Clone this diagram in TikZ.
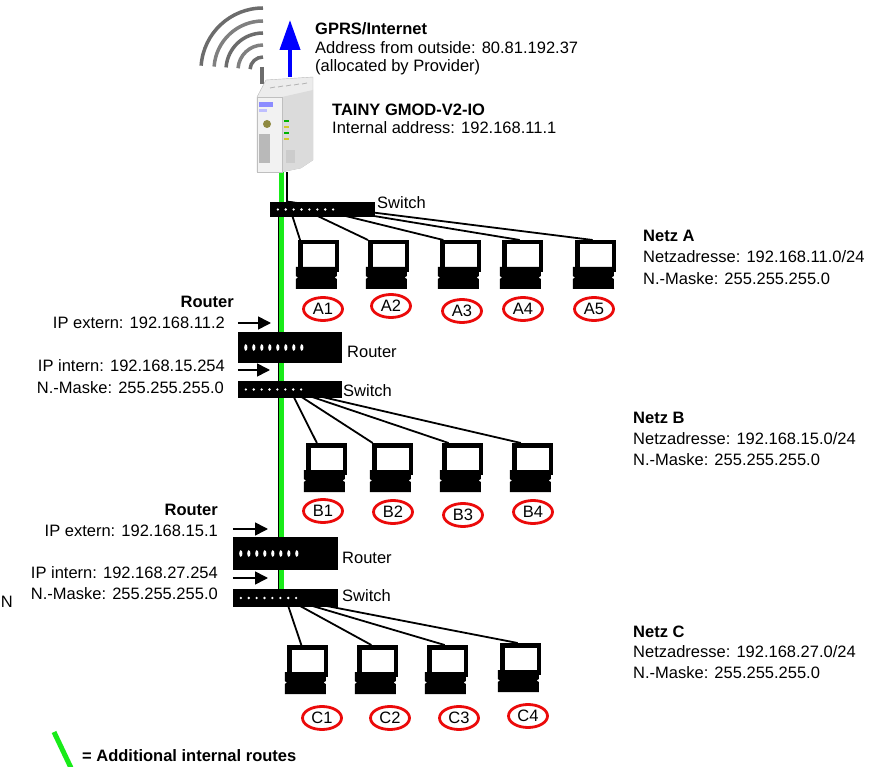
\documentclass[tikz,border=0pt]{standalone}
\usepackage{fontspec}
\setmainfont{Liberation Sans}
\usetikzlibrary{shapes.geometric,arrows.meta,backgrounds}
\definecolor{route}{RGB}{25,235,25}
\definecolor{hostred}{RGB}{235,10,10}
\newcommand{\lblfont}{\fontsize{16.5}{19}\selectfont}
\tikzset{>={Triangle[length=13pt,width=13pt]},
  lbl/.style={inner sep=0pt,anchor=base west,font=\lblfont},
  lblr/.style={inner sep=0pt,anchor=base east,font=\lblfont},
  hd/.style={lbl,font=\lblfont\bfseries},
  hdr/.style={lblr,font=\lblfont\bfseries},
  netbox/.style={fill=black,inner sep=0pt,minimum width=105pt},
  monitor/.style={draw=black,fill=white,line width=4.5pt,inner sep=0pt,
    minimum width=36.5pt,minimum height=27.5pt},
  host/.style={ellipse,draw=hostred,line width=2.8pt,inner sep=0pt,
    minimum width=39pt,minimum height=23pt,font=\lblfont},
  cable/.style={line width=1.8pt},
  ipin/.style={->,line width=1.6pt}}

% screen plus keyboard foot; #1 name, #2,#3 centre of the screen
\newcommand{\pc}[3]{%
  \node[monitor] (#1) at (#2,#3) {};
  \fill[shift={(#1.south west)}] (-2.25,-5) -- (38.75,-5) -- (38.75,4)
    -- (36.5,5.5) -- (38.75,7) -- (38.75,17) -- (-2.25,17) -- (-2.25,7)
    -- (0,5.5) -- (-2.25,4) -- cycle;}
% port lights on a switch / router front
\newcommand{\swdots}[1]{\foreach \i in {0,...,7}
  \fill[white] ([xshift={8pt+\i*7.9pt}]#1.west) circle (1.3pt);}
\newcommand{\rtdots}[1]{\foreach \i in {0,...,7}
  \fill[white] ([xshift={8pt+\i*8pt}]#1.west) ellipse (1.6pt and 3.3pt);}

\begin{document}
\begin{tikzpicture}[x=1pt,y=-1pt]
\useasboundingbox (0,0) rectangle (876,767);

% radio waves and antenna
\foreach \r/\c in {62/gray!85!black,49/gray,37/gray!85!black,25/gray,13/gray!85!black}
  \draw[\c,line width=3.5pt] (263,70) ++(90:\r pt) arc[start angle=90,end angle=176,radius=\r pt];
\draw[gray!85!black,line width=3.5pt] (262,67) -- (262,84);

% gateway module
\node[minimum width=58pt,minimum height=95pt] (tainy) at (285,124.5) {};
\coordinate (inet) at (290,20);
\draw[blue,line width=4pt,-{Triangle[length=30pt,width=20pt]}] ([xshift=5pt]tainy.north) -- (inet);
\fill[gray!15,draw=gray!55] (257,97) -- (266,80) -- (313,77) -- (313,160) -- (301,168) -- (282,172) -- (257,172) -- cycle;
\fill[gray!28] (282,97) -- (313,90) -- (313,160) -- (301,168) -- (282,172) -- cycle;
\fill[gray!10,draw=gray!50] (257,97) rectangle (282,172);
\foreach \i in {0,...,4} \draw[gray!60,line width=0.8pt] (270+\i*8,88-\i) -- +(5,-1);
\fill[blue!45] (259,102) rectangle (273,107);
\fill[blue!25] (259,109) rectangle (267,112);
\fill[gray!45!olive] (267,124) circle (4pt);
\foreach \c/\yy in {green!70!black/120,yellow!80!black/126,green!70!black/132,yellow!80!black/138}
  \fill[\c] (284,\yy) rectangle +(5,2.5);
\fill[gray!55] (259,134) rectangle (270,163);
\fill[gray!40] (286,150) rectangle (295,163);

\node[hd] (gprs) at (315,35) {GPRS/Internet};
\node[lbl] (gprsaddr) at (315,54) {Address from outside: 80.81.192.37};
\node[lbl] (gprsprov) at (315,72) {(allocated by Provider)};
\node[hd] (tainyname) at (332,116) {TAINY GMOD-V2-IO};
\node[lbl] (tainyaddr) at (332,134) {Internal address: 192.168.11.1};

% switches and routers
\node[netbox,minimum height=15pt] (swA) at (322.5,209.5) {};
\node[netbox,minimum width=104pt,minimum height=31pt] (rtB) at (290,347.5) {};
\node[netbox,minimum width=104pt,minimum height=17pt] (swB) at (290,389.5) {};
\node[netbox,minimum height=33pt] (rtC) at (285.5,553.5) {};
\node[netbox,minimum height=18pt] (swC) at (285.5,598) {};
\swdots{swA} \swdots{swB} \swdots{swC}
\rtdots{rtB} \rtdots{rtC}

\node[lbl] (swAlbl) at (377,209) {Switch};
\node[lbl] (rtBlbl) at (347,358) {Router};
\node[lbl] (swBlbl) at (343,396) {Switch};
\node[lbl] (rtClbl) at (342,563) {Router};
\node[lbl] (swClbl) at (342,601) {Switch};

% router addresses
\node[hdr] (rtBname) at (234,308) {Router};
\node[lblr] (ipextB) at (225,329) {IP extern: 192.168.11.2};
\node[lblr] (ipintB) at (225,372) {IP intern: 192.168.15.254};
\node[lblr] (maskB) at (224,394) {N.-Maske: 255.255.255.0};
\node[hdr] (rtCname) at (218,515) {Router};
\node[lblr] (ipextC) at (218,536) {IP extern: 192.168.15.1};
\node[lblr] (ipintC) at (218,578) {IP intern: 192.168.27.254};
\node[lblr] (maskC) at (218,599) {N.-Maske: 255.255.255.0};
\node[lblr] (cutN) at (13,607) {N};

\coordinate (extB) at (271,323);
\coordinate (intB) at (270,370);
\coordinate (extC) at (268,529);
\coordinate (intC) at (268,578);
\draw[ipin] (rtB.west |- extB) -- (extB);
\draw[ipin] (rtB.west |- intB) -- (intB);
\draw[ipin] (rtC.west |- extC) -- (extC);
\draw[ipin] (rtC.west |- intC) -- (intC);

% hosts
\foreach \n/\x/\y in {A1/318.5/256,A2/388.5/256,A3/460.5/256,A4/522.5/256,A5/595.5/256,
  B1/326.5/459,B2/392.5/459,B3/462.5/459,B4/532.5/459,
  C1/307.5/661,C2/377.5/661,C3/447.5/661,C4/520.5/659}
  {\pc{pc\n}{\x}{\y}}
\foreach \n/\x/\y in {A1/323/309,A2/391/306,A3/462/311,A4/523/309,A5/594/309,
  B1/323/511,B2/393/512,B3/463/515,B4/533/512,
  C1/322/718,C2/390/718,C3/459/718,C4/528/716}
  \node[host] (\n) at (\x,\y) {\n};

% networks
\node[hd] (netA) at (643,242) {Netz A};
\node[lbl] (netAaddr) at (643,263) {Netzadresse: 192.168.11.0/24};
\node[lbl] (netAmask) at (643,285) {N.-Maske: 255.255.255.0};
\node[hd] (netB) at (633,423) {Netz B};
\node[lbl] (netBaddr) at (633,444) {Netzadresse: 192.168.15.0/24};
\node[lbl] (netBmask) at (633,465) {N.-Maske: 255.255.255.0};
\node[hd] (netC) at (633,637) {Netz C};
\node[lbl] (netCaddr) at (633,657) {Netzadresse: 192.168.27.0/24};
\node[lbl] (netCmask) at (633,678) {N.-Maske: 255.255.255.0};

% legend
\coordinate (lg1) at (54,732);
\coordinate (lg2) at (72,770);
\draw[route,line width=5pt] (lg1) -- (lg2);
\node[hd] (legend) at (82,761) {= Additional internal routes};

% cabling
\coordinate (trunk) at (278.5,0);
\coordinate (green) at (281.5,0);
\begin{scope}[on background layer]
\draw[cable] ([xshift=2pt]tainy.south) -- ([xshift=2pt]tainy.south |- swA.north);
\draw[cable] (swA.south -| trunk) -- (rtB.north -| trunk);
\draw[cable] (rtB.south -| trunk) -- (swB.north -| trunk);
\draw[cable] (swB.south -| trunk) -- (rtC.north -| trunk);
\draw[cable] (rtC.south -| trunk) -- (swC.north -| trunk);
\draw[route,line width=5pt] (tainy.south -| green) -- (swC.north -| green);
\foreach \n/\a in {A1/139,A2/142,A3/137,A4/100,A5/100}
  \draw[cable] ([xshift=18pt]swA.north west) -- (pc\n.\a);
\foreach \n/\a in {B1/121,B2/141,B3/131,B4/126}
  \draw[cable] (swB.center) -- (pc\n.\a);
\foreach \n/\a in {C1/111,C2/111,C3/100,C4/100}
  \draw[cable] (swC.center) -- (pc\n.\a);
\end{scope}
\end{tikzpicture}
\end{document}
